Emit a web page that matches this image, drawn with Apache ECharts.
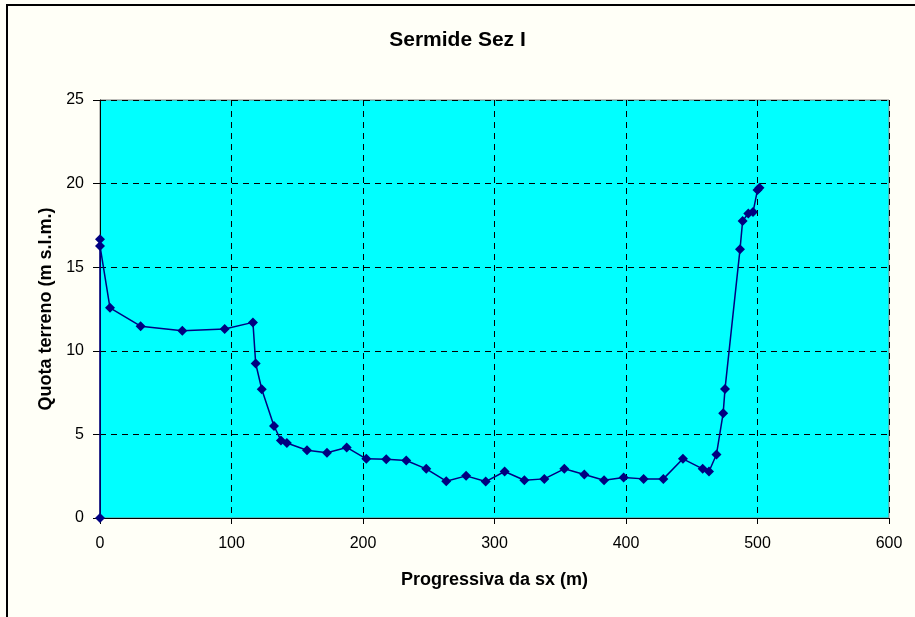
<!DOCTYPE html>
<html>
<head>
<meta charset="utf-8">
<script src="https://cdn.jsdelivr.net/npm/echarts@6/dist/echarts.min.js"></script>
<style>
html,body{margin:0;padding:0;background:#FFFFF7;}
#c{width:915px;height:617px;}
</style>
</head>
<body>
<div id="c"></div>
<script>
const titleText = "Sermide Sez I";
const xAxisName = "Progressiva da sx (m)";
const yAxisName = "Quota terreno (m s.l.m.)";
const progressiva = [0, 0, 0, 7.6, 30.9, 62.6, 94.8, 116.3, 118.4, 123, 132.3, 137.6, 142.1, 157.4, 172.6, 187.6, 202.5, 217.7, 232.9, 248.1, 263.3, 278.4, 293.3, 307.7, 322.7, 337.9, 353.1, 368.3, 383.3, 398.2, 413.4, 428.4, 443.3, 458.3, 463.1, 468.8, 473.9, 475.3, 486.7, 488.7, 493, 496.6, 500, 501.5];
const quota = [0, 16.67, 16.27, 12.57, 11.47, 11.2, 11.3, 11.7, 9.24, 7.7, 5.5, 4.64, 4.49, 4.05, 3.9, 4.22, 3.54, 3.52, 3.44, 2.94, 2.2, 2.52, 2.18, 2.78, 2.26, 2.34, 2.94, 2.6, 2.26, 2.42, 2.34, 2.34, 3.54, 2.94, 2.78, 3.8, 6.27, 7.72, 16.07, 17.77, 18.21, 18.3, 19.62, 19.75];

const chart = echarts.init(document.getElementById('c'), null, {renderer: 'canvas'});
const font = '"Liberation Sans", Arial, sans-serif';
chart.setOption({
  backgroundColor: '#FFFFF7',
  animation: false,
  title: {
    text: titleText, left: 'center', top: 25,
    textStyle: {fontFamily: font, fontSize: 21, fontWeight: 'bold', color: '#000'}
  },
  graphic: [{
    type: 'rect', shape: {x: 7, y: 5, width: 930, height: 640},
    style: {fill: 'none', stroke: '#000', lineWidth: 2}, silent: true
  }],
  grid: {
    left: 100, top: 100, right: 26, bottom: 99, containLabel: false,
    show: true, backgroundColor: '#00FFFF', borderColor: '#808080', borderWidth: 1
  },
  xAxis: {
    type: 'value', min: 0, max: 600, interval: 100,
    name: xAxisName, nameLocation: 'middle', nameGap: 53,
    nameTextStyle: {fontFamily: font, fontSize: 18, fontWeight: 'bold', color: '#000'},
    axisLine: {show: true, onZero: false, lineStyle: {color: '#000', width: 1}},
    axisTick: {show: true, inside: false, length: 6, lineStyle: {color: '#000'}},
    axisLabel: {fontFamily: font, fontSize: 16, color: '#000', margin: 18},
    splitLine: {show: true, lineStyle: {color: '#000', type: [6, 5], width: 1}}
  },
  yAxis: {
    type: 'value', min: 0, max: 25, interval: 5,
    name: yAxisName, nameLocation: 'middle', nameGap: 45, nameRotate: 90,
    nameTextStyle: {fontFamily: font, fontSize: 18, fontWeight: 'bold', color: '#000'},
    axisLine: {show: true, onZero: false, lineStyle: {color: '#000', width: 1}},
    axisTick: {show: true, inside: false, length: 7, lineStyle: {color: '#000'}},
    axisLabel: {fontFamily: font, fontSize: 16, color: '#000', margin: 16},
    splitLine: {show: true, lineStyle: {color: '#000', type: [6, 5], width: 1}}
  },
  series: [{
    type: 'line',
    data: progressiva.map((x, i) => [x, quota[i]]),
    symbol: 'diamond', symbolSize: 10,
    lineStyle: {color: '#000080', width: 1.5},
    itemStyle: {color: '#000080'},
    clip: false
  }]
});
</script>
</body>
</html>
